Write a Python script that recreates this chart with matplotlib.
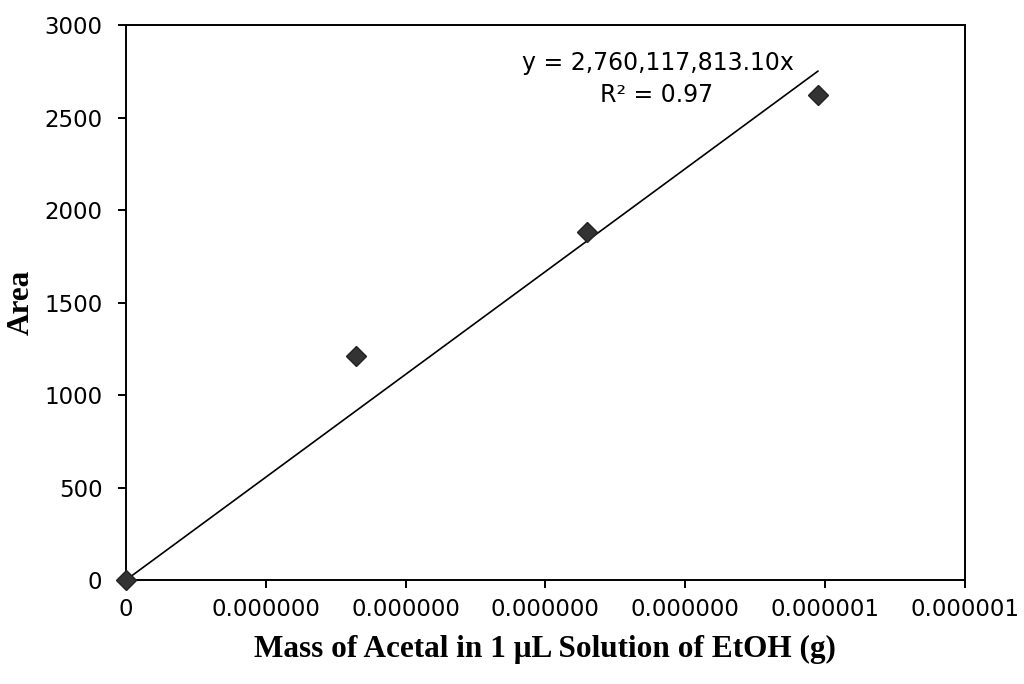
import numpy as np
import matplotlib
matplotlib.use("Agg")
import matplotlib.pyplot as plt
from matplotlib.ticker import FuncFormatter, MultipleLocator
from decimal import Decimal, ROUND_HALF_UP

# Data
mass_g = [0.0, 1.643e-7, 3.30e-7, 4.95e-7]
area = [0, 1211, 1881, 2622]
x_ticks = [0, 1e-7, 2e-7, 3e-7, 4e-7, 5e-7, 6e-7]
equation_text = "y = 2,760,117,813.10x"
r2_text = "R² = 0.97"

x = np.array(mass_g)
y = np.array(area, dtype=float)
slope = np.sum(x * y) / np.sum(x * x)  # trendline through origin

fig = plt.figure(figsize=(10.24, 6.84), dpi=100)
ax = fig.add_axes([0.123, 0.152, 0.819, 0.811])

xl = np.array([0.0, x.max()])
ax.plot(xl, slope * xl, color="black", lw=1.2, zorder=2)
ax.plot(x, y, linestyle="none", marker="D", markersize=10.5,
        color="#333333", markeredgecolor="#222222", zorder=3, clip_on=False)

ax.set_xlim(0, 6e-7)
ax.set_ylim(0, 3000)
ax.set_xticks(x_ticks)
ax.yaxis.set_major_locator(MultipleLocator(500))


def fmt(v, pos):
    if abs(v) < 1e-12:
        return "0"
    d = Decimal("%.12e" % float(v)).quantize(Decimal("0.000001"),
                                             rounding=ROUND_HALF_UP)
    return f"{d:.6f}"


ax.xaxis.set_major_formatter(FuncFormatter(fmt))
for s in ax.spines.values():
    s.set_linewidth(1.4)
    s.set_color("black")
ax.tick_params(axis="both", direction="out", length=6, width=1.4,
               labelsize=16.5, colors="black", top=False, right=False)
ax.tick_params(axis="x", pad=7)
ax.tick_params(axis="y", pad=11)

ax.set_xlabel("Mass of Acetal in 1 μL Solution of EtOH (g)",
              family="Liberation Serif", fontweight="bold", fontsize=22.5, labelpad=10)
ax.set_ylabel("Area", family="Liberation Serif", fontweight="bold",
              fontsize=22.5, labelpad=6)

ax.text(658, 63, equation_text, transform=None, fontsize=17,
        ha="center", va="center")
ax.text(657, 95, r2_text, transform=None, fontsize=17,
        ha="center", va="center")

# place texts in figure pixel coords (origin top-left)
for t in ax.texts:
    px, py = t.get_position()
    t.set_transform(fig.transFigure)
    t.set_position((px / 1024, 1 - py / 684))

fig.savefig("out.png", dpi=100)
